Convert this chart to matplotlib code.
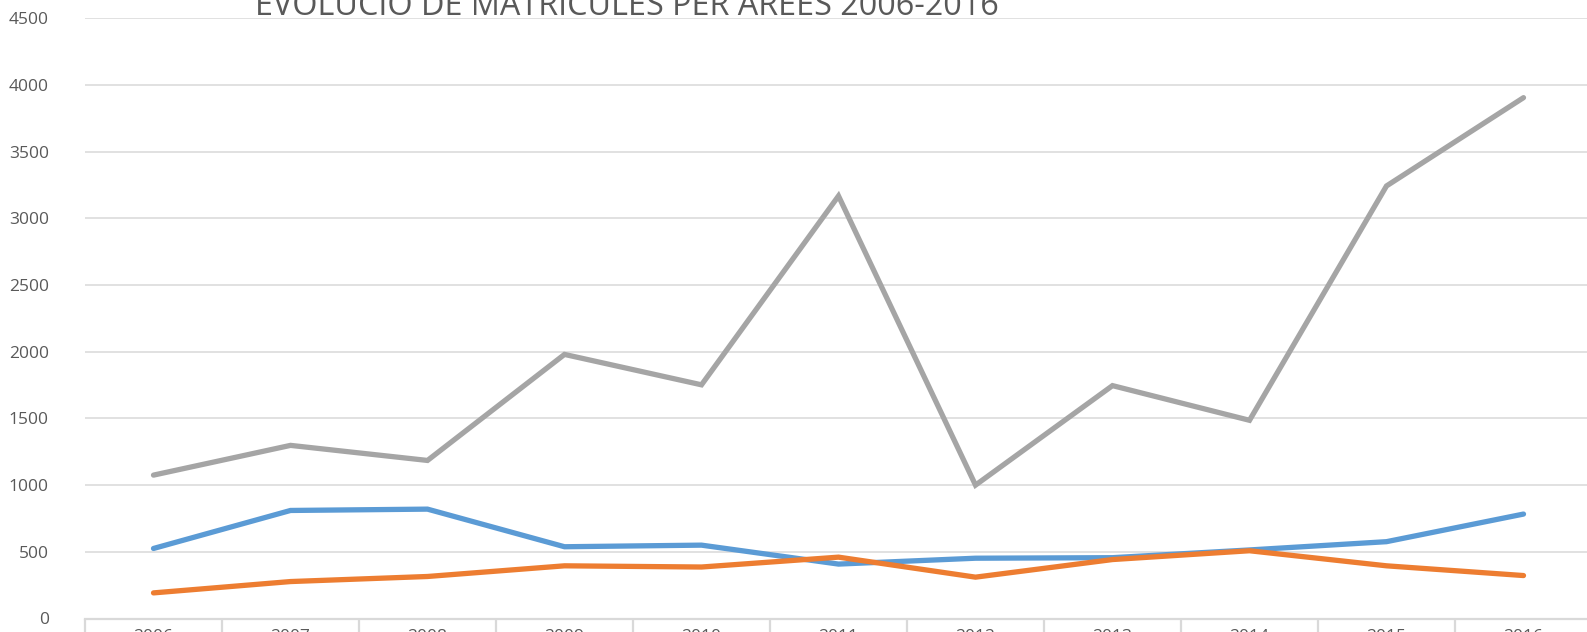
import matplotlib
matplotlib.use("Agg")
import matplotlib.pyplot as plt
from matplotlib.ticker import FixedLocator

years = ["2006", "2007", "2008", "2009", "2010", "2011", "2012", "2013", "2014", "2015", "2016"]
serie_blava = [525, 810, 820, 538, 550, 408, 452, 456, 514, 576, 783]
serie_taronja = [192, 277, 315, 395, 386, 460, 310, 442, 508, 395, 322]
serie_grisa = [1075, 1298, 1185, 1980, 1752, 3168, 1000, 1746, 1486, 3243, 3905]
yticks = [0, 500, 1000, 1500, 2000, 2500, 3000, 3500, 4000, 4500]
title = "EVOLUCIÓ DE MATRÍCULES PER ÀREES 2006-2016"

plt.rcParams['font.family'] = ['Open Sans', 'DejaVu Sans']

W, H = 1587, 632
fig = plt.figure(figsize=(W / 100, H / 100), dpi=100)
left_px, right_px, top_px, bot_px = 85, 85 + 11 * 137, 18.3, 618.5
ax = fig.add_axes([left_px / W, 1 - bot_px / H, (right_px - left_px) / W, (bot_px - top_px) / H])

x = list(range(len(years)))
lw = 3.8
ax.plot(x, serie_blava, color="#5b9bd5", lw=lw, solid_capstyle="round", solid_joinstyle="miter", zorder=3)
ax.plot(x, serie_taronja, color="#ed7d31", lw=lw, solid_capstyle="round", solid_joinstyle="miter", zorder=4)
ax.plot(x, serie_grisa, color="#a5a5a5", lw=lw, solid_capstyle="round", solid_joinstyle="miter", zorder=5)

ax.set_xlim(-0.5, len(years) - 0.5)
ax.set_ylim(0, 4500)
ax.set_yticks(yticks)
ax.set_yticklabels([str(v) for v in yticks])
ax.set_xticks(x)
ax.set_xticklabels(years)
ax.xaxis.set_minor_locator(FixedLocator([i - 0.5 for i in range(len(years) + 1)]))

ax.grid(axis="y", color="#d9d9d9", lw=1.1, zorder=0)
ax.set_axisbelow(True)
for s in ["top", "right", "left"]:
    ax.spines[s].set_visible(False)
ax.spines["bottom"].set_color("#d9d9d9")
ax.spines["bottom"].set_linewidth(1.6)
ax.spines["bottom"].set_zorder(1)

ax.tick_params(axis="y", length=0, pad=26, labelsize=12.5, labelcolor="#595959")
ax.tick_params(axis="x", which="major", length=0, pad=7.5, labelsize=12.5, labelcolor="#595959")
ax.tick_params(axis="x", which="minor", length=12, width=1.6, color="#d9d9d9", direction="out")

t = fig.text(627 / W, 1 - 15 / H, title, ha="center", va="baseline",
             fontsize=20, color="#595959")
fig.canvas.draw()
bb = t.get_window_extent()
target = 745
t.set_fontsize(20 * target / bb.width)

fig.savefig("out.png", dpi=100)
